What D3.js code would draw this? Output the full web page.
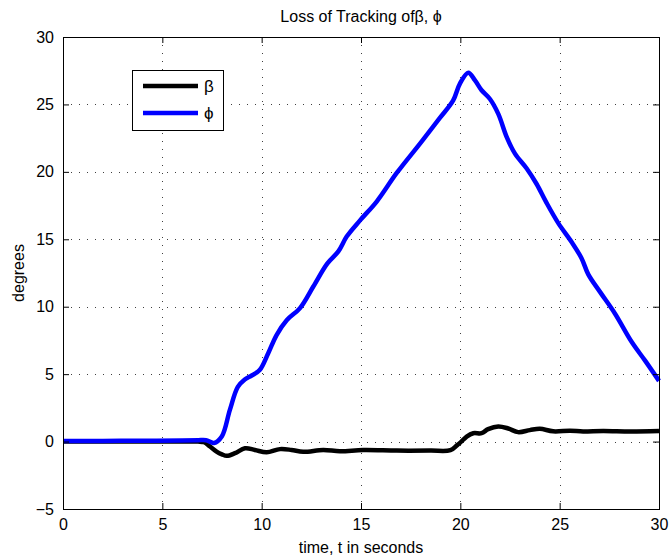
<!DOCTYPE html>
<html>
<head>
<meta charset="utf-8">
<script src="https://cdn.jsdelivr.net/npm/d3@7"></script>
<style>
  body { margin: 0; background: #fff; }
  svg { display: block; }
  text { font-family: "Liberation Sans", Arial, Helvetica, sans-serif; fill: #000; }
</style>
</head>
<body>
<div id="chart"></div>
<script>
// values
const tPhi = [0, 2, 4, 6, 6.8, 7.2, 7.6, 8.0, 8.4, 8.8, 9.15, 9.5, 9.9, 10.33, 10.75, 11.26, 11.93, 12.6, 13.3, 13.86, 14.28, 14.95, 15.79, 16.79, 17.97, 18.97, 19.64, 19.98, 20.4, 20.73, 21.07, 21.49, 21.91, 22.33, 22.75, 23.34, 23.84, 24.34, 24.93, 25.6, 26.1, 26.44, 27.03, 27.78, 28.62, 29.3, 30];
const phi = [0.05, 0.05, 0.06, 0.08, 0.1, 0.1, -0.1, 0.4, 2.35, 4.05, 4.6, 4.9, 5.3, 6.55, 7.9, 9.0, 9.9, 11.5, 13.2, 14.1, 15.2, 16.4, 17.8, 19.9, 22.1, 24.0, 25.3, 26.55, 27.35, 26.8, 26.05, 25.4, 24.3, 22.6, 21.35, 20.25, 19.1, 17.7, 16.2, 14.8, 13.6, 12.4, 11.1, 9.5, 7.4, 6.0, 4.5];

const tBeta = [0, 2, 4, 6, 6.8, 7.1, 7.4, 7.73, 8.0, 8.24, 8.66, 9.16, 9.66, 10.25, 10.92, 11.5, 12.09, 13.1, 13.94, 15.11, 16.8, 18.5, 19.5, 19.81, 19.98, 20.32, 20.65, 21.07, 21.4, 21.91, 22.41, 22.91, 23.5, 24.0, 24.67, 25.52, 26.18, 27.19, 28.54, 30];
const beta = [0, 0, 0, 0, 0, -0.05, -0.37, -0.74, -0.95, -1.06, -0.86, -0.5, -0.62, -0.8, -0.56, -0.62, -0.76, -0.62, -0.72, -0.63, -0.67, -0.67, -0.64, -0.3, -0.1, 0.37, 0.62, 0.62, 0.92, 1.12, 0.97, 0.7, 0.85, 0.95, 0.76, 0.8, 0.75, 0.79, 0.75, 0.78];

const xTicks = [0, 5, 10, 15, 20, 25, 30];
const yTicks = [-5, 0, 5, 10, 15, 20, 25, 30];

const width = 670, height = 560;
const margin = { top: 37, right: 11, bottom: 51, left: 63 };
const plotW = width - margin.left - margin.right;
const plotH = height - margin.top - margin.bottom;

const svg = d3.select("#chart").append("svg")
  .attr("width", width)
  .attr("height", height);

const g = svg.append("g")
  .attr("transform", `translate(${margin.left},${margin.top})`);

const x = d3.scaleLinear().domain([0, 30]).range([0, plotW]);
const y = d3.scaleLinear().domain([-5, 30]).range([plotH, 0]);

// dotted grid
const grid = g.append("g").attr("stroke", "#000").attr("stroke-width", 1)
  .attr("stroke-dasharray", "1,7").attr("opacity", 0.75);
grid.selectAll("line.vx").data(xTicks.slice(1, -1)).join("line")
  .attr("x1", d => Math.round(x(d)) + 0.5).attr("x2", d => Math.round(x(d)) + 0.5)
  .attr("y1", 0).attr("y2", plotH);
grid.selectAll("line.hy").data(yTicks.slice(1, -1)).join("line")
  .attr("y1", d => Math.round(y(d)) + 0.5).attr("y2", d => Math.round(y(d)) + 0.5)
  .attr("x1", 0).attr("x2", plotW);

// lines
const line = (ts, vs) => d3.line()
  .x((d, i) => x(ts[i]))
  .y(d => y(d))
  .curve(d3.curveCatmullRom.alpha(0.5))(vs);

g.append("path").attr("d", line(tBeta, beta))
  .attr("fill", "none").attr("stroke", "#000").attr("stroke-width", 4.5)
  .attr("stroke-linejoin", "round");
g.append("path").attr("d", line(tPhi, phi))
  .attr("fill", "none").attr("stroke", "#0000ff").attr("stroke-width", 4.5)
  .attr("stroke-linejoin", "round");

// axes with inward ticks, box on all four sides
const tick = 6;
const styleAxis = sel => {
  sel.select(".domain").remove();
  sel.selectAll("line").attr("stroke", "#000");
  sel.selectAll("text").style("font-size", "16px")
    .style("font-family", '"Liberation Sans", Arial, sans-serif');
};

g.append("g").attr("transform", `translate(0,${plotH})`)
  .call(d3.axisBottom(x).tickValues(xTicks).tickSizeInner(-tick).tickSizeOuter(0).tickPadding(10))
  .call(styleAxis);
g.append("g")
  .call(d3.axisTop(x).tickValues(xTicks).tickSizeInner(-tick).tickSizeOuter(0).tickFormat(""))
  .call(styleAxis);
g.append("g")
  .call(d3.axisLeft(y).tickValues(yTicks).tickSizeInner(-tick).tickSizeOuter(0).tickPadding(9)
    .tickFormat(d => d < 0 ? "\u2212" + Math.abs(d) : d))
  .call(styleAxis);
g.append("g").attr("transform", `translate(${plotW},0)`)
  .call(d3.axisRight(y).tickValues(yTicks).tickSizeInner(-tick).tickSizeOuter(0).tickFormat(""))
  .call(styleAxis);

g.append("rect").attr("x", 0.5).attr("y", 0.5)
  .attr("width", plotW).attr("height", plotH)
  .attr("fill", "none").attr("stroke", "#000").attr("stroke-width", 1);

// legend
const legend = g.append("g").attr("transform", `translate(${132 - margin.left},${70 - margin.top})`);
legend.append("rect").attr("x", 0.5).attr("y", 0.5).attr("width", 91).attr("height", 60)
  .attr("fill", "#fff").attr("stroke", "#000");
const legendItems = [{ label: "\u03b2", color: "#000" }, { label: "\u03d5", color: "#0000ff" }];
legendItems.forEach((d, i) => {
  const yy = 16 + i * 27;
  legend.append("line").attr("x1", 11).attr("x2", 66).attr("y1", yy).attr("y2", yy)
    .attr("stroke", d.color).attr("stroke-width", 4.5);
  legend.append("text").attr("x", 72).attr("y", yy + 6).style("font-size", "17px").text(d.label);
});

// labels
svg.append("text").attr("x", margin.left + plotW / 2).attr("y", 22)
  .attr("text-anchor", "middle").style("font-size", "16px")
  .text("Loss of Tracking of\u03b2, \u03d5");
svg.append("text").attr("x", margin.left + plotW / 2).attr("y", 553)
  .attr("text-anchor", "middle").style("font-size", "16px")
  .text("time, t in seconds");
svg.append("text").attr("transform", `translate(24,${margin.top + plotH / 2}) rotate(-90)`)
  .attr("text-anchor", "middle").style("font-size", "16px")
  .text("degrees");
</script>
</body>
</html>
